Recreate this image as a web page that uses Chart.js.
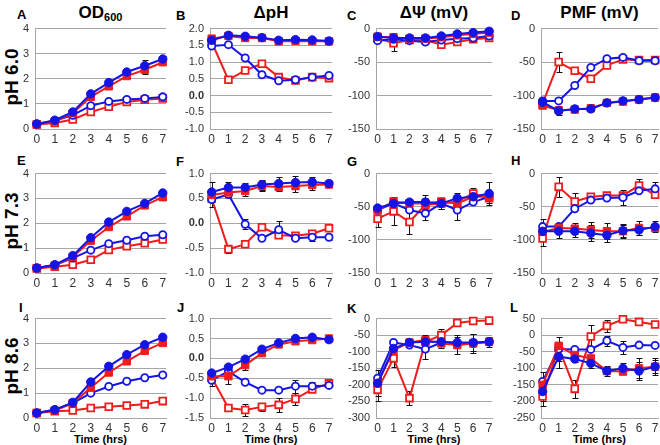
<!DOCTYPE html>
<html><head><meta charset="utf-8">
<script src="https://cdn.jsdelivr.net/npm/chart.js@4.4.0/dist/chart.umd.min.js"></script>
<style>
html,body{margin:0;padding:0;background:#fff;}
body{width:660px;height:445px;position:relative;overflow:hidden;font-family:"Liberation Sans",Arial,sans-serif;}
.t{position:absolute;font-weight:bold;color:#000;white-space:nowrap;text-align:center;}
canvas{position:absolute;}
</style></head><body>
<script>
// ---------- shared ----------
const hours = [0,1,2,3,4,5,6,7];
const xTickLabels = ['0','1','2','3','4','5','6','7'];
const columnTitles = ['OD<sub style="font-size:11px;vertical-align:-3px">600</sub>','ΔpH','ΔΨ (mV)','PMF (mV)'];
const rowTitles = ['pH 6.0','pH 7.3','pH 8.6'];
const panelLetters = ['A','B','C','D','E','F','G','H','I','J','K','L'];
const xAxisTitle = 'Time (hrs)';

// ---------- pH 6.0 ----------
const A_blueFilled = [0.20,0.35,0.68,1.40,1.85,2.27,2.52,2.79];
const A_redFilled  = [0.18,0.30,0.63,1.28,1.70,2.11,2.36,2.66];
const A_blueOpen   = [0.20,0.33,0.55,0.93,1.10,1.18,1.22,1.28];
const A_redOpen    = [0.18,0.24,0.38,0.68,0.89,1.08,1.17,1.22];
const A_errBlueFilled = [0,0,0,0,0.05,0.08,0.22,0.12];
const A_errRedFilled  = [0,0,0,0.05,0.05,0.08,0.15,0.08];

const B_blueFilled = [1.65,1.80,1.77,1.73,1.65,1.67,1.66,1.63];
const B_redFilled  = [1.70,1.78,1.72,1.72,1.62,1.63,1.62,1.62];
const B_blueOpen   = [1.48,1.52,1.12,0.62,0.44,0.47,0.55,0.60];
const B_redOpen    = [1.60,0.47,0.75,0.95,0.55,0.45,0.55,0.52];
const B_errBlueFilled = [0,0.06,0.08,0.05,0,0,0,0];
const B_errRedFilled  = [0.05,0.05,0.08,0,0,0,0,0];

const C_blueFilled = [-12,-14,-14,-14,-11,-8,-6,-4];
const C_redFilled  = [-12,-13,-15,-15,-13,-10,-8,-6];
const C_blueOpen   = [-18,-16,-18,-20,-17,-15,-14,-11];
const C_redOpen    = [-14,-22,-17,-17,-24,-20,-16,-14];
const C_errRedOpen = [0,11,0,0,0,0,0,0];

const D_blueFilled = [-110,-123,-120,-120,-111,-108,-106,-103];
const D_redFilled  = [-115,-122,-121,-119,-111,-109,-106,-103];
const D_blueOpen   = [-108,-108,-85,-58,-45,-43,-48,-48];
const D_redOpen    = [-112,-50,-63,-75,-55,-46,-47,-47];
const D_errBlueFilled = [0,6,0,0,0,0,0,0];
const D_errRedOpen    = [0,15,0,0,0,0,0,0];

// ---------- pH 7.3 ----------
const E_blueFilled = [0.20,0.33,0.70,1.42,2.05,2.48,2.80,3.22];
const E_redFilled  = [0.20,0.30,0.65,1.30,1.85,2.28,2.72,3.05];
const E_blueOpen   = [0.20,0.32,0.60,0.92,1.18,1.32,1.48,1.54];
const E_redOpen    = [0.18,0.25,0.33,0.53,0.93,1.08,1.20,1.35];
const E_errBlueFilled = [0,0,0,0.13,0,0,0,0];
const E_errRedFilled  = [0,0,0,0,0,0,0,0.12];

const F_blueFilled = [0.63,0.72,0.72,0.78,0.80,0.82,0.83,0.80];
const F_redFilled  = [0.57,0.62,0.65,0.75,0.73,0.75,0.77,0.78];
const F_blueOpen   = [0.48,0.58,-0.02,-0.30,-0.13,-0.30,-0.28,-0.28];
const F_redOpen    = [0.50,-0.52,-0.42,-0.08,-0.24,-0.25,-0.21,-0.10];
const F_errBlueFilled = [0.20,0.12,0.10,0.10,0.13,0.13,0.10,0.05];
const F_errRedFilled  = [0.10,0.10,0.10,0.10,0.08,0.12,0.10,0.05];
const F_errBlueOpen   = [0.15,0.05,0.10,0,0.17,0,0.08,0.06];
const F_errRedOpen    = [0,0.08,0.05,0,0.05,0,0,0];

const G_blueFilled = [-52,-45,-43,-43,-45,-37,-35,-30];
const G_redFilled  = [-55,-42,-45,-45,-42,-45,-35,-35];
const G_blueOpen   = [-55,-45,-55,-60,-45,-55,-43,-35];
const G_redOpen    = [-68,-57,-73,-47,-45,-42,-30,-37];
const G_errBlueFilled = [5,5,5,10,8,8,6,18];
const G_errBlueOpen   = [0,0,0,10,0,15,0,0];
const G_errRedOpen    = [12,21,18,10,8,6,8,8];

const H_blueFilled = [-87,-87,-87,-90,-93,-86,-85,-80];
const H_redFilled  = [-88,-82,-83,-85,-87,-87,-82,-82];
const H_blueOpen   = [-80,-80,-53,-40,-37,-36,-26,-23];
const H_redOpen    = [-98,-20,-42,-35,-33,-33,-18,-32];
const H_errBlueFilled = [10,10,8,12,10,10,8,8];
const H_errRedFilled  = [0,8,8,12,12,10,10,0];
const H_errBlueOpen   = [12,0,0,0,0,12,0,10];
const H_errRedOpen    = [12,15,13,0,0,0,10,0];

// ---------- pH 8.6 ----------
const I_blueFilled = [0.20,0.33,0.63,1.45,2.08,2.55,2.95,3.25];
const I_redFilled  = [0.20,0.30,0.60,1.22,1.83,2.28,2.70,3.02];
const I_blueOpen   = [0.20,0.33,0.60,1.00,1.27,1.48,1.62,1.73];
const I_redOpen    = [0.20,0.27,0.30,0.40,0.45,0.50,0.55,0.68];
const I_errBlueFilled = [0,0,0,0.15,0,0,0,0];
const I_errRedFilled  = [0,0,0,0,0,0.1,0.1,0.05];

const J_blueFilled = [-0.37,-0.22,-0.02,0.23,0.39,0.50,0.53,0.47];
const J_redFilled  = [-0.45,-0.45,-0.17,0.13,0.35,0.43,0.46,0.50];
const J_blueOpen   = [-0.55,-0.33,-0.60,-0.80,-0.80,-0.70,-0.70,-0.68];
const J_redOpen    = [-0.48,-1.25,-1.30,-1.22,-1.17,-1.02,-0.78,-0.63];
const J_errBlueFilled = [0.05,0.05,0.08,0.05,0.05,0.06,0.03,0.03];
const J_errRedFilled  = [0.05,0.2,0.12,0.05,0.03,0.05,0.03,0.03];
const J_errBlueOpen   = [0.15,0,0,0,0,0.16,0.1,0];
const J_errRedOpen    = [0,0,0.14,0.1,0.18,0.15,0,0];

const K_blueFilled = [-195,-90,-72,-70,-70,-72,-72,-70];
const K_redFilled  = [-195,-95,-72,-65,-75,-80,-75,-70];
const K_blueOpen   = [-180,-72,-80,-92,-72,-78,-75,-70];
const K_redOpen    = [-215,-120,-240,-70,-50,-13,-7,-6];
const K_errBlueFilled = [40,20,10,20,18,15,25,15];
const K_errBlueOpen   = [0,0,0,30,0,30,30,0];
const K_errRedOpen    = [35,25,22,0,18,0,0,0];

const L_blueFilled = [-170,-65,-72,-85,-108,-100,-108,-95];
const L_redFilled  = [-150,-32,-60,-70,-108,-110,-100,-95];
const L_blueOpen   = [-140,-42,-43,-43,-17,-37,-30,-31];
const L_redOpen    = [-185,-38,-162,-4,28,48,40,32];
const L_errBlueFilled = [30,35,10,15,15,15,28,20];
const L_errRedFilled  = [0,0,0,0,0,0,30,25];
const L_errBlueOpen   = [30,35,0,0,15,20,0,0];
const L_errRedOpen    = [30,0,28,35,18,0,0,0];

// y-axis ranges [min, max, step, decimals]
const yRangeOD   = [0,4,1,0];
const yRangeB    = [-1,2,0.5,1];
const yRangeF    = [-1,1,0.5,1];
const yRangeJ    = [-1.5,1,0.5,1];
const yRangePsi  = [-150,0,50,0];
const yRangeK    = [-300,0,50,0];
const yRangePMF  = [-150,0,50,0];
const yRangeL    = [-250,50,50,0];

const Z = [0,0,0,0,0,0,0,0];
const panels = [
  {L:'A',r:0,c:0,y:yRangeOD, d:[A_blueFilled,A_redFilled,A_blueOpen,A_redOpen], e:[A_errBlueFilled,A_errRedFilled,Z,Z]},
  {L:'B',r:0,c:1,y:yRangeB,  d:[B_blueFilled,B_redFilled,B_blueOpen,B_redOpen], e:[B_errBlueFilled,B_errRedFilled,Z,Z], boldZero:true},
  {L:'C',r:0,c:2,y:yRangePsi,d:[C_blueFilled,C_redFilled,C_blueOpen,C_redOpen], e:[Z,Z,Z,C_errRedOpen]},
  {L:'D',r:0,c:3,y:yRangePMF,d:[D_blueFilled,D_redFilled,D_blueOpen,D_redOpen], e:[D_errBlueFilled,Z,Z,D_errRedOpen]},
  {L:'E',r:1,c:0,y:yRangeOD, d:[E_blueFilled,E_redFilled,E_blueOpen,E_redOpen], e:[E_errBlueFilled,E_errRedFilled,Z,Z]},
  {L:'F',r:1,c:1,y:yRangeF,  d:[F_blueFilled,F_redFilled,F_blueOpen,F_redOpen], e:[F_errBlueFilled,F_errRedFilled,F_errBlueOpen,F_errRedOpen], boldZero:true},
  {L:'G',r:1,c:2,y:yRangePsi,d:[G_blueFilled,G_redFilled,G_blueOpen,G_redOpen], e:[G_errBlueFilled,Z,G_errBlueOpen,G_errRedOpen]},
  {L:'H',r:1,c:3,y:yRangePMF,d:[H_blueFilled,H_redFilled,H_blueOpen,H_redOpen], e:[H_errBlueFilled,H_errRedFilled,H_errBlueOpen,H_errRedOpen]},
  {L:'I',r:2,c:0,y:yRangeOD, d:[I_blueFilled,I_redFilled,I_blueOpen,I_redOpen], e:[I_errBlueFilled,I_errRedFilled,Z,Z]},
  {L:'J',r:2,c:1,y:yRangeJ,  d:[J_blueFilled,J_redFilled,J_blueOpen,J_redOpen], e:[J_errBlueFilled,J_errRedFilled,J_errBlueOpen,J_errRedOpen], boldZero:true},
  {L:'K',r:2,c:2,y:yRangeK,  d:[K_blueFilled,K_redFilled,K_blueOpen,K_redOpen], e:[K_errBlueFilled,Z,K_errBlueOpen,K_errRedOpen]},
  {L:'L',r:2,c:3,y:yRangeL,  d:[L_blueFilled,L_redFilled,L_blueOpen,L_redOpen], e:[L_errBlueFilled,L_errRedFilled,L_errBlueOpen,L_errRedOpen]}
];

// ---------- layout ----------
const colLeft  = [35,210,376,541];
const colRight = [166,332,492,658];
const rowTop   = [24,169,314];
const rowBot   = [129,273,418];
const letterPos = [[17,7],[176,8],[347,8],[511,8],[17,153],[176,154],[347,154],[511,153],[19,300],[177,300],[347,301],[510,300]];
const YW = 44, PT = 8, PR = 12, XH = 20;
const BLUE = '#1414e6', RED = '#ee1c1c', GRID = '#a6a6a6';
const FONT = '"Liberation Sans", Arial, sans-serif';

function addText(html, left, top, style){
  const d = document.createElement('div');
  d.className = 't'; d.innerHTML = html;
  d.style.cssText += `left:${left}px;top:${top}px;` + (style||'');
  document.body.appendChild(d); return d;
}

columnTitles.forEach((t,i)=>{
  const cx = (colLeft[i]+colRight[i])/2;
  addText(t, cx-100, 3, 'width:200px;font-size:17px;line-height:20px;');
});
rowTitles.forEach((t,i)=>{
  const cy = (rowTop[i]+rowBot[i])/2;
  addText(t, 12-45, cy-11, 'width:90px;height:22px;font-size:19px;line-height:22px;transform:rotate(-90deg);');
});
panelLetters.forEach((t,i)=>{
  addText(t, letterPos[i][0], letterPos[i][1], 'font-size:13px;line-height:15px;');
});
for (let c=0;c<4;c++){
  const cx = (colLeft[c]+colRight[c])/2;
  addText(xAxisTitle, cx-50, 432, 'width:100px;font-size:11px;line-height:14px;');
}

function makeErrPlugin(errs){
  return {
    id:'errbars',
    beforeDatasetsDraw(chart){
      const ctx = chart.ctx, xs = chart.scales.x, ys = chart.scales.y;
      ctx.save(); ctx.strokeStyle = '#111'; ctx.lineWidth = 1;
      chart.data.datasets.forEach((ds, i)=>{
        const ev = errs[i];
        ds.data.forEach((pt, j)=>{
          const e = ev[j]; if (!e) return;
          const v = pt.y;
          const x = Math.round(xs.getPixelForValue(hours[j])) + 0.5;
          const y1 = Math.round(ys.getPixelForValue(v + e)) + 0.5, y2 = Math.round(ys.getPixelForValue(v - e)) + 0.5;
          ctx.beginPath();
          ctx.moveTo(x, y1); ctx.lineTo(x, y2);
          ctx.moveTo(x-3, y1); ctx.lineTo(x+3, y1);
          ctx.moveTo(x-3, y2); ctx.lineTo(x+3, y2);
          ctx.stroke();
        });
      });
      ctx.restore();
    }
  };
}

const styles = [
  {color:BLUE, fill:BLUE,   shape:'circle', r:4.2, bw:1},
  {color:RED,  fill:RED,    shape:'rect',   r:5.2, bw:1},
  {color:BLUE, fill:'#fff', shape:'circle', r:3.6, bw:1.8},
  {color:RED,  fill:'#fff', shape:'rect',   r:4.8, bw:1.8}
];

panels.forEach(p=>{
  const pl = colLeft[p.c], pr = colRight[p.c], pt = rowTop[p.r], pb = rowBot[p.r];
  const cv = document.createElement('canvas');
  const W = (pr-pl) + YW + PR, H = (pb-pt) + PT + XH;
  cv.width = W; cv.height = H;
  cv.style.left = (pl-YW)+'px'; cv.style.top = (pt-PT)+'px';
  cv.style.width = W+'px'; cv.style.height = H+'px';
  document.body.appendChild(cv);
  const [ymin,ymax,ystep,dec] = p.y;
  new Chart(cv.getContext('2d'), {
    type:'line',
    data:{ labels: hours, datasets: p.d.map((arr,i)=>({
      data: arr.map((v,j)=>({x:hours[j], y:v})),
      borderColor: styles[i].color, backgroundColor: styles[i].fill,
      pointBackgroundColor: styles[i].fill, pointBorderColor: styles[i].color,
      pointStyle: styles[i].shape, pointRadius: styles[i].r, pointBorderWidth: styles[i].bw,
      borderWidth: 2, tension: 0, fill:false, clip:false
    }))},
    options:{
      responsive:false, animation:false, devicePixelRatio:1, events:[],
      layout:{padding:{left:0, top:PT, right:PR, bottom:0}},
      plugins:{legend:{display:false}, tooltip:{enabled:false}},
      scales:{
        x:{ type:'linear', min:-0.1, max:7.18,
            afterBuildTicks: s=>{ s.ticks = hours.map(v=>({value:v})); },
            afterFit: s=>{ s.height = XH; },
            grid:{display:false, drawTicks:false},
            border:{display:true, color:GRID, width:1},
            ticks:{ autoSkip:false, maxRotation:0, padding:3, color:'#333',
                    font:{family:FONT, size:12}, callback:(v,i)=>xTickLabels[i] } },
        y:{ min:ymin, max:ymax,
            afterBuildTicks: s=>{ const t=[]; for(let v=ymin; v<=ymax+1e-9; v+=ystep) t.push({value:+v.toFixed(4)}); s.ticks=t; },
            afterFit: s=>{ s.width = YW; },
            grid:{color:GRID, lineWidth:1, drawTicks:false},
            border:{display:true, color:GRID, width:1},
            ticks:{ padding:6, color:'#333',
                    font: ctx => ({family:FONT, size:11, weight: (p.boldZero && ctx.tick && ctx.tick.value===0) ? 'bold':'normal'}),
                    callback: v => (+v).toFixed(dec) } }
      }
    },
    plugins:[makeErrPlugin(p.e)]
  });
});
</script>
</body></html>
